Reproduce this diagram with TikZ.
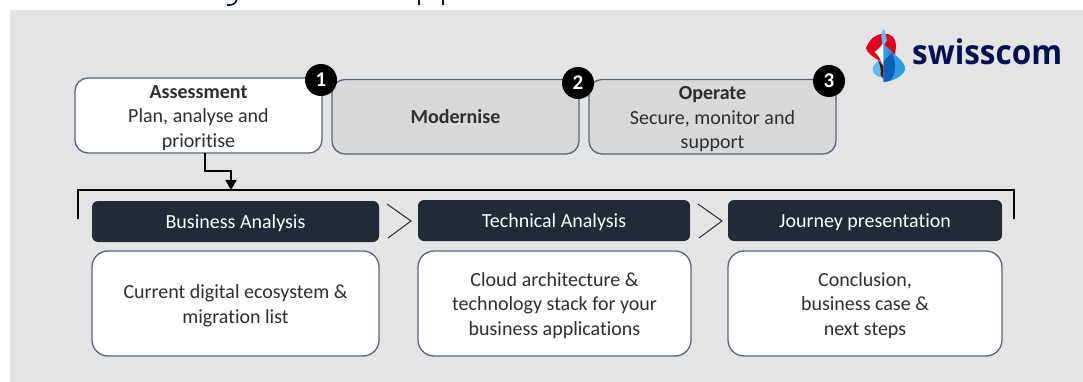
\documentclass[tikz,border=0pt]{standalone}
\usepackage{fontspec}
\setmainfont{Carlito}[Ligatures=NoCommon]
\newfontfamily\logofont{Open Sans}[FakeStretch=0.925]
\definecolor{panel}{HTML}{E4E4E4}
\definecolor{edge}{HTML}{56657C}
\definecolor{graybox}{HTML}{D8D8D8}
\definecolor{dark}{HTML}{212A36}
\definecolor{txt}{HTML}{2E2E2E}
\definecolor{navy}{HTML}{001155}
\definecolor{swred}{HTML}{E3001B}
\definecolor{swblue}{HTML}{2E9BE6}
\definecolor{swdeep}{HTML}{0B62B5}
\definecolor{swlight}{HTML}{5CBDF2}
\definecolor{swmaroon}{HTML}{5A0A14}
\usetikzlibrary{arrows.meta}
\newcommand{\dn}{\rule{0pt}{18pt}}
\tikzset{
  x=1pt,y=-1pt,
  phase/.style={draw=edge,line width=1.3pt,rounded corners=13pt,inner sep=0pt,outer sep=0pt,align=center,text=txt,font=\fontsize{20}{24.5}\selectfont},
  head/.style={fill=dark,rounded corners=6pt,inner sep=0pt,outer sep=0pt,text=white,font=\fontsize{20}{24}\selectfont},
  card/.style={draw=edge,fill=white,line width=1.3pt,rounded corners=16pt,inner sep=0pt,outer sep=0pt,align=center,text=txt,font=\fontsize{20}{24.5}\selectfont},
  badge/.style={circle,fill=black,minimum size=32pt,inner sep=0pt,text=white,font=\fontsize{21}{22}\selectfont\bfseries},
  chev/.style={draw=dark,line width=1pt},
  conn/.style={draw=black,line width=1.4pt}
}
\newcommand{\boxat}[6]{\node[#1,minimum width=#4pt,minimum height=#5pt,anchor=north west] (#6) at (#2,#3)}
\begin{document}
\begin{tikzpicture}
\useasboundingbox (0,0) rectangle (1083,382);
\fill[panel] (10,10) rectangle (1083,382);
% title fragments
\draw[navy,line width=1.6pt] (236.5,0) .. controls (235.5,4) and (232,5.5) .. (227,5);
\fill[navy] (418,0) rectangle (420,5.5);
\fill[navy] (442,0) rectangle (444,5.5);
% phases
\boxat{phase,fill=white}{75}{78}{247}{75}{assess} {\dn\textbf{Assessment}\\Plan, analyse and\\prioritise};
\boxat{phase,fill=graybox}{332}{79.5}{247}{74.5}{modern} {\textbf{Modernise}};
\boxat{phase,fill=graybox}{589}{79.5}{247}{74.5}{operate} {\dn\textbf{Operate}\\Secure, monitor and\\support};
\node[badge] (b1) at (321,80) {1};
\node[badge] (b2) at (578,83) {2};
\node[badge] (b3) at (829,81) {3};
% bracket
\coordinate (bl) at (78,219);
\coordinate (bt) at (78,190);
\coordinate (br) at (1014,190);
\coordinate (brd) at (1014,219);
\draw[conn] (bl) -- (bt) -- (br) -- (brd);
\coordinate (tip) at (231,190);
\draw[conn,-{Triangle[length=10pt,width=11pt]}] ([xshift=6.5pt]assess.south) |- (218,171) -| (tip);
% heads
\boxat{head}{92}{201}{287}{41}{h1} {\dn Business Analysis};
\boxat{head}{418}{200}{272}{41}{h2} {\dn Technical Analysis};
\boxat{head}{728}{200}{274}{41}{h3} {\dn Journey presentation};
\boxat{card}{92}{251}{287}{105}{c1} {\dn Current digital ecosystem \&\\migration list};
\boxat{card}{418}{251}{273}{105}{c2} {\dn Cloud architecture \&\\technology stack for your\\business applications};
\boxat{card}{728}{251}{274}{105}{c3} {\dn Conclusion,\\business case \&\\next steps};
\draw[chev] (387,204) -- (411,221) -- (388,238);
\draw[chev] (698,204) -- (722,221) -- (699,238);
% logo
\fill[swred] (883.5,34) .. controls (875,34) and (870,39) .. (866,48) .. controls (867,53) and (872,56) .. (878,60) -- (883.5,66) -- cycle;
\fill[swred] (883.5,34) .. controls (891,33) and (896,38) .. (896,45) .. controls (896,49) and (895,52) .. (895,55) -- (883.5,44) -- cycle;
\fill[white] (883.5,43) .. controls (880,47) and (878,50) .. (874.5,52) .. controls (878,54) and (880,58) .. (883.5,68) -- cycle;
\fill[swlight] (880,60) .. controls (874,63) and (872,68) .. (873,71) .. controls (874,75) and (878,77) .. (883.5,78) -- cycle;
\fill[swmaroon] (878,60) -- (883.5,66) -- (883.5,79) -- (880.5,75) .. controls (881.5,70) and (880,65) .. (878,60) -- cycle;
\fill[swblue] (883.5,44) -- (895,55) .. controls (902,60) and (906,66) .. (905,70) .. controls (902,77) and (893,81) .. (883.5,82) -- cycle;
\fill[swdeep] (883.5,82) -- (883.5,62) -- (892,52) .. controls (896,62) and (896,74) .. (891,80) .. controls (889,81) and (886,82) .. (883.5,82) -- cycle;
\fill[swlight] (884,29) .. controls (881,32) and (880,38) .. (883.5,46) -- (887,40) .. controls (886,36) and (885,32) .. (884,29) -- cycle;
\node[font=\logofont\fontsize{34}{34}\selectfont\bfseries,text=navy,inner sep=0pt,anchor=base west] (logo) at (912,65) {swisscom};
\end{tikzpicture}
\end{document}
